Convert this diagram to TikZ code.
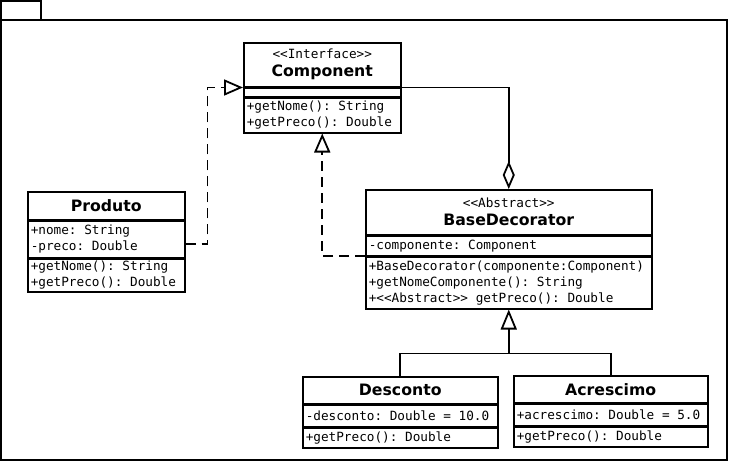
\documentclass[tikz,border=0pt]{standalone}
\usepackage{fontspec}
\usepackage{tikz}
\usetikzlibrary{positioning, calc}
\usetikzlibrary{arrows.meta}
\newfontfamily\umlmono{DejaVu Sans Mono}[WordSpace={1,0,0}]
\newfontfamily\umlsans{DejaVu Sans}
\newcommand{\stereo}[1]{{\textless\textless#1\textgreater\textgreater}}
\newcommand{\ctitle}[1]{{\umlsans\bfseries\fontsize{15.7}{18}\selectfont #1}}
\tikzset{
  compart/.style={draw, line width=1.5pt, rectangle, inner xsep=3pt, inner ysep=1pt,
    anchor=north, font=\umlmono\fontsize{12.7}{16}\selectfont\frenchspacing, align=flush left},
  headbox/.style={compart, align=center},
  link/.style={line width=1.8pt},
  realize/.style={link, dash pattern=on 10pt off 6pt, -{Triangle[open, length=19pt, width=16pt]}},
  inherit/.style={link, -{Triangle[open, length=20pt, width=16pt]}},
  aggreg/.style={link, -{Diamond[open, length=28pt, width=12pt]}}
}

\begin{document}
\begin{tikzpicture}[x=1pt, y=-1pt]
    \useasboundingbox (0,0) rectangle (729,463);
    % package frame
    \draw[line width=1.6pt] (1,20) rectangle (727,460);
    \draw[line width=1.6pt] (1,1) rectangle (41,20);

    % Component
    \node[headbox, anchor=north west, text width=151pt, minimum height=44pt] (comptitle) at (243,42)
        {\stereo{Interface}\\[2pt]\ctitle{Component}};
    \node[compart, text width=151pt, minimum height=8pt, below=0pt of comptitle] (compattr) {};
    \node[compart, text width=151pt, minimum height=35pt, below=0pt of compattr] (compmeth)
        {+getNome(): String\\+getPreco(): Double};

    % Produto
    \node[headbox, anchor=north west, text width=151pt, minimum height=28pt] (prodtitle) at (27,191)
        {\ctitle{Produto}};
    \node[compart, text width=151pt, minimum height=36pt, below=0pt of prodtitle] (prodattr)
        {+nome: String\\-preco: Double};
    \node[compart, text width=151pt, minimum height=33pt, below=0pt of prodattr] (prodmeth)
        {+getNome(): String\\+getPreco(): Double};

    % BaseDecorator
    \node[headbox, anchor=north west, text width=280pt, minimum height=45pt] (basetitle) at (365,189)
        {\stereo{Abstract}\\[2pt]\ctitle{BaseDecorator}};
    \node[compart, text width=280pt, minimum height=19pt, below=0pt of basetitle] (baseattr)
        {-componente: Component};
    \node[compart, text width=280pt, minimum height=52pt, below=0pt of baseattr] (basemeth)
        {+BaseDecorator(componente:Component)\\+getNomeComponente(): String\\+\textless\textless Abstract\textgreater\textgreater{} getPreco(): Double};

    % Desconto
    \node[headbox, anchor=north west, text width=189pt, minimum height=27pt] (desctitle) at (302,376)
        {\ctitle{Desconto}};
    \node[compart, text width=189pt, minimum height=21pt, below=0pt of desctitle] (descattr)
        {-desconto: Double = 10.0};
    \node[compart, text width=189pt, minimum height=20pt, below=0pt of descattr] (descmeth)
        {+getPreco(): Double};

    % Acrescimo
    \node[headbox, anchor=north west, text width=188pt, minimum height=27pt] (acretitle) at (513,375)
        {\ctitle{Acrescimo}};
    \node[compart, text width=188pt, minimum height=21pt, below=0pt of acretitle] (acreattr)
        {+acrescimo: Double = 5.0};
    \node[compart, text width=188pt, minimum height=20pt, below=0pt of acreattr] (acremeth)
        {+getPreco(): Double};

    % connectors
    \draw[realize] ([yshift=-5pt]prodattr.east) -- ++(22,0) |- (comptitle.south west);
    \draw[realize] (baseattr.south west) -| (compmeth.south);
    \draw[aggreg] (comptitle.south east) -| (basetitle.north);
    \coordinate (join) at ($(basemeth.south)+(0,44)$);
    \draw[inherit] (join) -- (basemeth.south);
    \draw[link] (desctitle.north) |- (join) -| (acretitle.north);
\end{tikzpicture}
\end{document}
